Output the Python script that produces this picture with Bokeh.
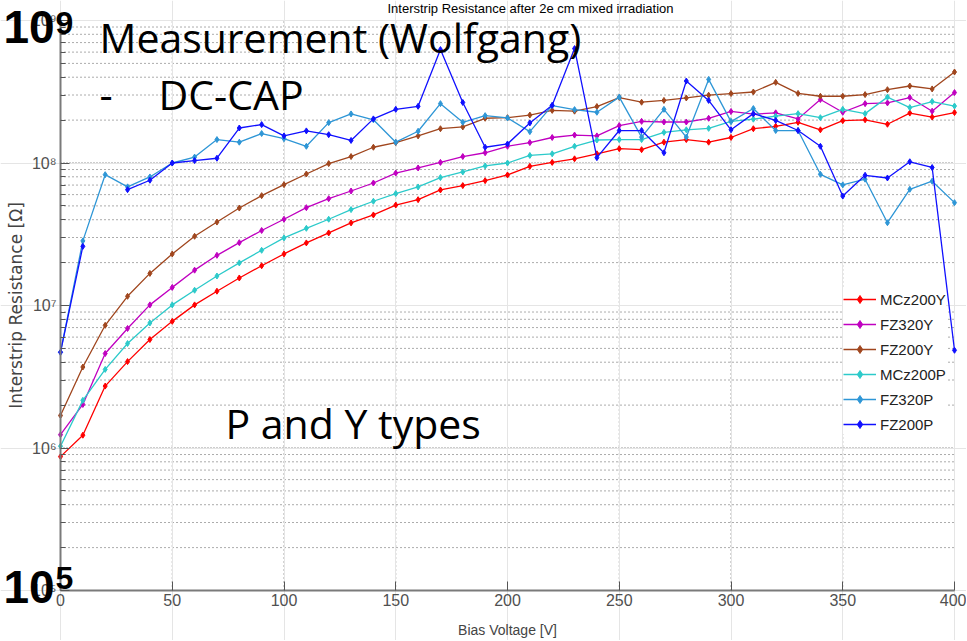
from bokeh.plotting import figure
from bokeh.models import Label, Legend, FixedTicker, LogAxis, LinearAxis, Range1d
from bokeh.embed import file_html
from bokeh.resources import INLINE

nan = float("nan")

bias_v = [0, 10, 20, 30, 40, 50, 60, 70, 80, 90, 100, 110, 120, 130, 140, 150, 160, 170, 180, 190,
          200, 210, 220, 230, 240, 250, 260, 270, 280, 290, 300, 310, 320, 330, 340, 350, 360, 370,
          380, 390, 400]

mcz200y = [8.7e5, 1.23e6, 2.72e6, 4.04e6, 5.77e6, 7.74e6, 1.01e7, 1.26e7, 1.56e7, 1.9e7, 2.3e7,
           2.75e7, 3.23e7, 3.8e7, 4.32e7, 5.07e7, 5.53e7, 6.47e7, 6.94e7, 7.52e7, 8.24e7, 9.48e7,
           1.01e8, 1.07e8, 1.16e8, 1.26e8, 1.24e8, 1.4e8, 1.46e8, 1.4e8, 1.51e8, 1.74e8, 1.81e8,
           1.93e8, 1.71e8, 1.98e8, 2.01e8, 1.87e8, 2.24e8, 2.1e8, 2.26e8]

fz320y = [1.24e6, 2.02e6, 4.6e6, 6.9e6, 1.01e7, 1.34e7, 1.77e7, 2.25e7, 2.76e7, 3.36e7, 4.03e7,
          4.86e7, 5.62e7, 6.36e7, 7.24e7, 8.5e7, 9.23e7, 1.01e8, 1.11e8, 1.18e8, 1.31e8, 1.39e8,
          1.51e8, 1.57e8, 1.55e8, 1.83e8, 1.96e8, 1.94e8, 1.94e8, 2.06e8, 2.3e8, 2.2e8, 2.25e8,
          2.04e8, 2.79e8, 2.27e8, 2.61e8, 2.64e8, 2.88e8, 2.31e8, 3.12e8]

fz200y = [1.69e6, 3.7e6, 7.26e6, 1.16e7, 1.68e7, 2.3e7, 3.06e7, 3.85e7, 4.83e7, 5.9e7, 7.05e7,
          8.37e7, 9.9e7, 1.11e8, 1.29e8, 1.39e8, 1.55e8, 1.74e8, 1.79e8, 2.06e8, 2.08e8, 2.17e8,
          2.34e8, 2.31e8, 2.49e8, 2.88e8, 2.67e8, 2.75e8, 2.86e8, 2.99e8, 3.07e8, 3.15e8, 3.68e8,
          3.08e8, 2.94e8, 2.94e8, 3.02e8, 3.27e8, 3.47e8, 3.31e8, 4.35e8]

mcz200p = [1.03e6, 2.16e6, 3.56e6, 5.41e6, 7.54e6, 1.01e7, 1.28e7, 1.61e7, 1.99e7, 2.44e7, 2.98e7,
           3.48e7, 4.03e7, 4.71e7, 5.39e7, 6.1e7, 6.79e7, 7.9e7, 8.65e7, 9.53e7, 1.0e8, 1.13e8,
           1.16e8, 1.31e8, 1.45e8, 1.46e8, 1.46e8, 1.64e8, 1.71e8, 1.75e8, 1.96e8, 2.03e8, 2.13e8,
           2.22e8, 2.08e8, 2.38e8, 2.22e8, 2.9e8, 2.45e8, 2.7e8, 2.51e8]

fz320p = [4.7e6, 2.84e7, 8.28e7, 6.8e7, 7.98e7, 1.0e8, 1.1e8, 1.46e8, 1.4e8, 1.61e8, 1.48e8,
          1.31e8, 1.92e8, 2.21e8, 2.01e8, 1.4e8, 1.67e8, 2.61e8, 1.93e8, 2.15e8, 2.07e8, 1.66e8,
          2.53e8, 2.37e8, 2.27e8, 2.9e8, 1.52e8, 2.38e8, 1.52e8, 3.86e8, 1.95e8, 2.41e8, 1.69e8,
          1.69e8, 8.33e7, 7.02e7, 7.7e7, 3.81e7, 6.54e7, 7.45e7, 5.27e7]

fz200p = [4.7e6, 2.6e7, nan, 6.5e7, 7.57e7, 1.0e8, 1.04e8, 1.08e8, 1.76e8, 1.86e8, 1.55e8,
          1.68e8, 1.58e8, 1.44e8, 2.04e8, 2.38e8, 2.5e8, 6.25e8, 2.66e8, 1.29e8, 1.36e8, 1.91e8,
          2.54e8, 6.35e8, 1.09e8, 1.69e8, 1.69e8, 1.18e8, 3.76e8, 2.75e8, 1.71e8, 2.22e8, 1.99e8,
          1.69e8, 1.31e8, 5.86e7, 8.2e7, 7.85e7, 1.02e8, 9.3e7, 4.85e6]

series_names = ["MCz200Y", "FZ320Y", "FZ200Y", "MCz200P", "FZ320P", "FZ200P"]
series_values = [mcz200y, fz320y, fz200y, mcz200p, fz320p, fz200p]
series_colors = ["#FF0000", "#C000C0", "#A0461E", "#2CCACA", "#2E96D6", "#1010FF"]

x_ticks = [0, 50, 100, 150, 200, 250, 300, 350, 400]
y_ticks = [1e5, 1e6, 1e7, 1e8, 1e9]
y_tick_labels = ["10\u2075", "10\u2076", "10\u2077", "10\u2078", "10\u2079"]
x_min, x_max = 0, 400
y_min, y_max = 1e5, 1e9

SANS = "Liberation Sans"
W, H = 966, 640
# plot-area placement on the canvas (pixels)
FL, FR, FT, FB = 60, 954, 20, 590


def X(px):
    return x_min + (px - FL) / (FR - FL) * (x_max - x_min)


def Y(py):
    return 10 ** (9 - (py - FT) / ((FB - FT) / 4))


p = figure(width=W, height=H, y_axis_type="log", x_axis_location=None, y_axis_location=None,
           x_range=Range1d(X(0), X(W)), y_range=Range1d(Y(H), Y(0)),
           output_backend="svg", toolbar_location=None, min_border=0)
p.outline_line_color = None
p.background_fill_color = "white"
p.border_fill_color = "white"

minor = [m * 10 ** e for e in range(5, 9) for m in range(2, 10)]

# grid lines (dotted), confined to the axes box
p.segment(x0=x_ticks[1:], y0=[y_min] * 8, x1=x_ticks[1:], y1=[y_max] * 8,
          line_color="#222222", line_dash="1 3", line_width=1, line_alpha=0.8, level="underlay")
p.segment(x0=[x_min] * len(minor), y0=minor, x1=[x_max] * len(minor), y1=minor,
          line_color="#222222", line_dash="1 3", line_width=1, line_alpha=0.75, level="underlay")
p.segment(x0=[x_min] * 4, y0=y_ticks[1:], x1=[x_max] * 4, y1=y_ticks[1:],
          line_color="#222222", line_dash="1 2", line_width=1, line_alpha=0.9, level="underlay")

yaxis = LogAxis(fixed_location=x_min, bounds=(y_min, y_max),
                ticker=FixedTicker(ticks=y_ticks, minor_ticks=minor))
yaxis.major_label_overrides = {t: l for t, l in zip(y_ticks, y_tick_labels)}
yaxis.axis_label = "Interstrip Resistance [\u03a9]"
xaxis = LinearAxis(fixed_location=y_min, bounds=(x_min, x_max), ticker=FixedTicker(ticks=x_ticks))
xaxis.axis_label = "Bias Voltage [V]"

for ax in (xaxis, yaxis):
    ax.axis_line_color = "#7a7a7a"
    ax.axis_line_width = 2
    ax.major_tick_line_color = "#555555"
    ax.minor_tick_line_color = "#555555"
    ax.major_tick_in = 9
    ax.major_tick_out = 0
    ax.minor_tick_in = 5
    ax.minor_tick_out = 0
    ax.major_label_text_font = SANS
    ax.major_label_text_color = "#505050"
    ax.major_label_text_font_size = "16px"
    ax.axis_label_text_font = SANS
    ax.axis_label_text_font_style = "normal"
    ax.axis_label_text_color = "#444444"

xaxis.axis_label_text_font_size = "14px"
xaxis.major_label_standoff = 3
xaxis.axis_label_standoff = 13
yaxis.axis_label_text_font = "DejaVu Sans"
yaxis.axis_label_text_font_size = "17px"
yaxis.major_label_standoff = 4
yaxis.axis_label_standoff = 3
p.add_layout(yaxis, "left")
p.add_layout(xaxis, "below")

items = []
for name, vals, col in zip(series_names, series_values, series_colors):
    r1 = p.line(bias_v, vals, line_color=col, line_width=1.3)
    r2 = p.scatter(bias_v, vals, marker="diamond", size=6, fill_color=col, line_color=col)
    items.append((name, [r1, r2]))

legend = Legend(items=items, location=(843, H - 434), background_fill_color="white",
                background_fill_alpha=1.0, border_line_color=None, padding=6, spacing=5,
                margin=0, label_height=20, glyph_height=20, glyph_width=33, label_standoff=4,
                label_text_font=SANS, label_text_font_size="15px", label_text_color="#222222")
p.add_layout(legend)


def lab(px, py, text, size, font="Open Sans", style="normal", align="left", color="black", k=0.44):
    # py is the wanted baseline in canvas pixels
    p.add_layout(Label(x=X(px), y=Y(py - k * size), text=text, text_font=font,
                       text_font_size=f"{size}px", text_font_style=style, text_align=align,
                       text_baseline="alphabetic", text_color=color))


lab(530, 13, "Interstrip Resistance after 2e cm mixed irradiation", 13, font=SANS, align="center", k=0.4)
lab(99, 55, "Measurement (Wolfgang)", 41)
lab(99, 112, "-", 41)
lab(158, 112, "DC-CAP", 41)
lab(225, 441, "P and Y types", 41)
lab(3, 45, "10", 46, font=SANS, style="bold", k=0.4)
lab(55, 35, "9", 32, font=SANS, style="bold", k=0.4)
lab(3, 605, "10", 46, font=SANS, style="bold", k=0.4)
lab(55, 590, "5", 32, font=SANS, style="bold", k=0.4)

open("out.html", "w").write(file_html(p, INLINE))
